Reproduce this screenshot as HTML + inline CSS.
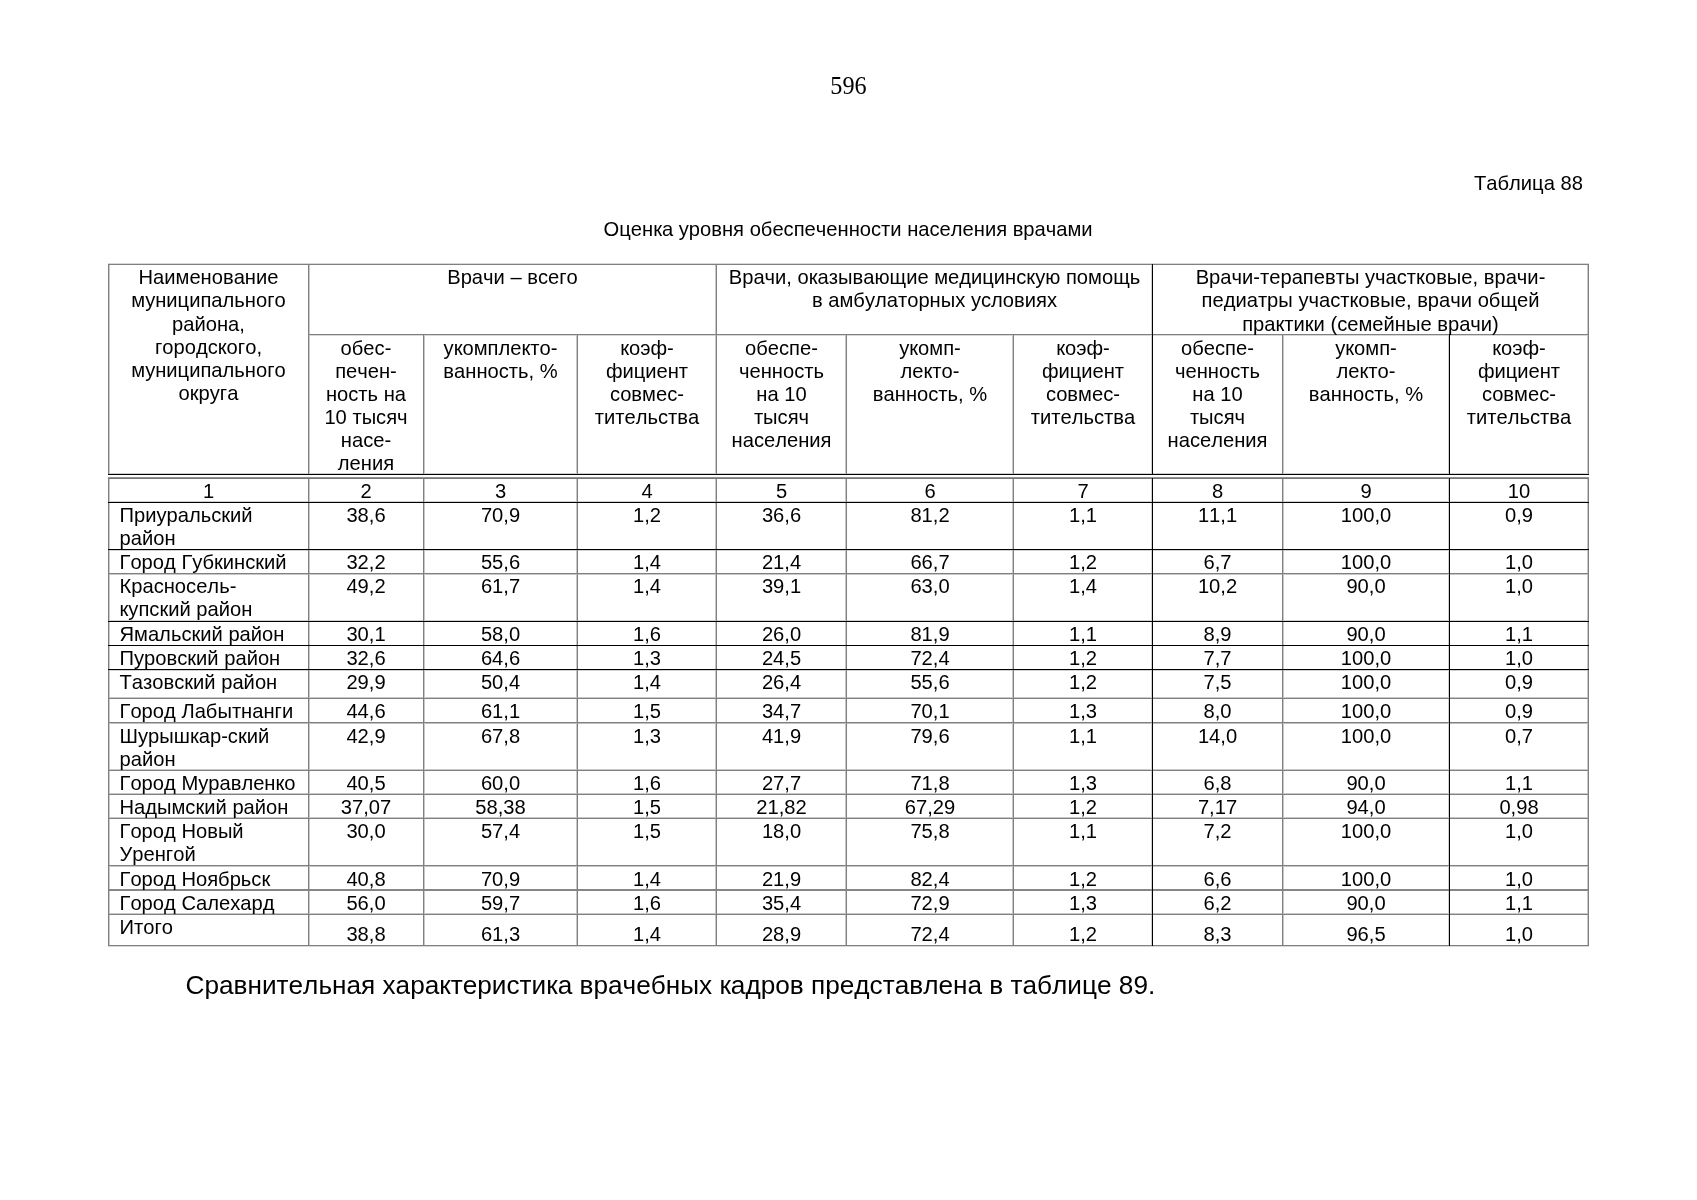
<!DOCTYPE html>
<html><head><meta charset="utf-8"><title>Таблица 88</title><style>
html,body{margin:0;padding:0;background:#fff;}
body{width:1697px;height:1200px;position:relative;overflow:hidden;font-family:"Liberation Sans",sans-serif;font-size:20.16px;color:#000;font-kerning:none;font-feature-settings:"kern" 0;}
.l{position:absolute;}
#pg{position:absolute;left:0;top:0;width:1697px;height:1200px;will-change:transform;}
.t{position:absolute;white-space:nowrap;line-height:23.1px;}
.c{text-align:center;}
</style></head><body><div id="pg">
<div class="l" style="left:108px;top:263px;width:1481px;height:1px;background:#d8d8d8"></div>
<div class="l" style="left:308px;top:335px;width:1281px;height:1px;background:#d8d8d8"></div>
<div class="l" style="left:108px;top:473px;width:1481px;height:1px;background:#d0d0d0"></div>
<div class="l" style="left:108px;top:501px;width:1481px;height:1px;background:#d0d0d0"></div>
<div class="l" style="left:108px;top:550px;width:1481px;height:1px;background:#d0d0d0"></div>
<div class="l" style="left:108px;top:574px;width:1481px;height:1px;background:#c8c8c8"></div>
<div class="l" style="left:108px;top:620px;width:1481px;height:1px;background:#d0d0d0"></div>
<div class="l" style="left:108px;top:670px;width:1481px;height:1px;background:#d0d0d0"></div>
<div class="l" style="left:108px;top:697px;width:1481px;height:1px;background:#c8c8c8"></div>
<div class="l" style="left:108px;top:723px;width:1481px;height:1px;background:#c0c0c0"></div>
<div class="l" style="left:108px;top:769px;width:1481px;height:1px;background:#c8c8c8"></div>
<div class="l" style="left:108px;top:793px;width:1481px;height:1px;background:#c8c8c8"></div>
<div class="l" style="left:108px;top:817px;width:1481px;height:1px;background:#c8c8c8"></div>
<div class="l" style="left:108px;top:866px;width:1481px;height:1px;background:#c8c8c8"></div>
<div class="l" style="left:108px;top:913px;width:1481px;height:1px;background:#c8c8c8"></div>
<div class="l" style="left:108px;top:946px;width:1481px;height:1px;background:#d8d8d8"></div>
<div class="l" style="left:109px;top:264px;width:1px;height:211px;background:#c8c8c8"></div>
<div class="l" style="left:109px;top:478px;width:1px;height:468px;background:#c8c8c8"></div>
<div class="l" style="left:309px;top:264px;width:1px;height:211px;background:#c8c8c8"></div>
<div class="l" style="left:309px;top:478px;width:1px;height:468px;background:#c8c8c8"></div>
<div class="l" style="left:424px;top:334px;width:1px;height:141px;background:#c8c8c8"></div>
<div class="l" style="left:424px;top:478px;width:1px;height:468px;background:#c8c8c8"></div>
<div class="l" style="left:576px;top:334px;width:1px;height:141px;background:#c8c8c8"></div>
<div class="l" style="left:576px;top:478px;width:1px;height:468px;background:#c8c8c8"></div>
<div class="l" style="left:715px;top:264px;width:1px;height:211px;background:#c8c8c8"></div>
<div class="l" style="left:715px;top:478px;width:1px;height:468px;background:#c8c8c8"></div>
<div class="l" style="left:845px;top:334px;width:1px;height:141px;background:#c8c8c8"></div>
<div class="l" style="left:845px;top:478px;width:1px;height:468px;background:#c8c8c8"></div>
<div class="l" style="left:1012px;top:334px;width:1px;height:141px;background:#c8c8c8"></div>
<div class="l" style="left:1012px;top:478px;width:1px;height:468px;background:#c8c8c8"></div>
<div class="l" style="left:1151px;top:264px;width:1px;height:211px;background:#d0d0d0"></div>
<div class="l" style="left:1151px;top:478px;width:1px;height:468px;background:#d0d0d0"></div>
<div class="l" style="left:1283px;top:334px;width:1px;height:141px;background:#c8c8c8"></div>
<div class="l" style="left:1283px;top:478px;width:1px;height:468px;background:#c8c8c8"></div>
<div class="l" style="left:1448px;top:334px;width:1px;height:141px;background:#d0d0d0"></div>
<div class="l" style="left:1448px;top:478px;width:1px;height:468px;background:#d0d0d0"></div>
<div class="l" style="left:1587px;top:264px;width:1px;height:211px;background:#c8c8c8"></div>
<div class="l" style="left:1587px;top:478px;width:1px;height:468px;background:#c8c8c8"></div>
<div class="l" style="left:108px;top:477px;width:1481px;height:1px;background:#939393"></div>
<div class="l" style="left:108px;top:264px;width:1481px;height:1px;background:#808080"></div>
<div class="l" style="left:308px;top:334px;width:1281px;height:1px;background:#808080"></div>
<div class="l" style="left:108px;top:478px;width:1481px;height:1px;background:#787878"></div>
<div class="l" style="left:108px;top:573px;width:1481px;height:1px;background:#808080"></div>
<div class="l" style="left:108px;top:698px;width:1481px;height:1px;background:#808080"></div>
<div class="l" style="left:108px;top:722px;width:1481px;height:1px;background:#808080"></div>
<div class="l" style="left:108px;top:770px;width:1481px;height:1px;background:#808080"></div>
<div class="l" style="left:108px;top:794px;width:1481px;height:1px;background:#808080"></div>
<div class="l" style="left:108px;top:818px;width:1481px;height:1px;background:#808080"></div>
<div class="l" style="left:108px;top:865px;width:1481px;height:1px;background:#808080"></div>
<div class="l" style="left:108px;top:889px;width:1481px;height:1px;background:#868686"></div>
<div class="l" style="left:108px;top:890px;width:1481px;height:1px;background:#868686"></div>
<div class="l" style="left:108px;top:914px;width:1481px;height:1px;background:#808080"></div>
<div class="l" style="left:108px;top:945px;width:1481px;height:1px;background:#808080"></div>
<div class="l" style="left:108px;top:264px;width:1px;height:211px;background:#808080"></div>
<div class="l" style="left:108px;top:478px;width:1px;height:468px;background:#808080"></div>
<div class="l" style="left:308px;top:264px;width:1px;height:211px;background:#808080"></div>
<div class="l" style="left:308px;top:478px;width:1px;height:468px;background:#808080"></div>
<div class="l" style="left:423px;top:334px;width:1px;height:141px;background:#808080"></div>
<div class="l" style="left:423px;top:478px;width:1px;height:468px;background:#808080"></div>
<div class="l" style="left:577px;top:334px;width:1px;height:141px;background:#808080"></div>
<div class="l" style="left:577px;top:478px;width:1px;height:468px;background:#808080"></div>
<div class="l" style="left:716px;top:264px;width:1px;height:211px;background:#808080"></div>
<div class="l" style="left:716px;top:478px;width:1px;height:468px;background:#808080"></div>
<div class="l" style="left:846px;top:334px;width:1px;height:141px;background:#808080"></div>
<div class="l" style="left:846px;top:478px;width:1px;height:468px;background:#808080"></div>
<div class="l" style="left:1013px;top:334px;width:1px;height:141px;background:#808080"></div>
<div class="l" style="left:1013px;top:478px;width:1px;height:468px;background:#808080"></div>
<div class="l" style="left:1282px;top:334px;width:1px;height:141px;background:#808080"></div>
<div class="l" style="left:1282px;top:478px;width:1px;height:468px;background:#808080"></div>
<div class="l" style="left:1588px;top:264px;width:1px;height:211px;background:#808080"></div>
<div class="l" style="left:1588px;top:478px;width:1px;height:468px;background:#808080"></div>
<div class="l" style="left:108px;top:474px;width:1481px;height:1px;background:#000"></div>
<div class="l" style="left:108px;top:502px;width:1481px;height:1px;background:#000"></div>
<div class="l" style="left:108px;top:549px;width:1481px;height:1px;background:#000"></div>
<div class="l" style="left:108px;top:621px;width:1481px;height:1px;background:#000"></div>
<div class="l" style="left:108px;top:645px;width:1481px;height:1px;background:#000"></div>
<div class="l" style="left:108px;top:669px;width:1481px;height:1px;background:#000"></div>
<div class="l" style="left:1152px;top:264px;width:1px;height:211px;background:#000"></div>
<div class="l" style="left:1152px;top:478px;width:1px;height:468px;background:#000"></div>
<div class="l" style="left:1449px;top:334px;width:1px;height:141px;background:#000"></div>
<div class="l" style="left:1449px;top:478px;width:1px;height:468px;background:#000"></div>
<div class="t c" style="left:108.00px;top:266.36px;width:201px;">Наименование<br>муниципального<br>района,<br>городского,<br>муниципального<br>округа</div>
<div class="t c" style="left:308.00px;top:266.36px;width:409px;">Врачи – всего</div>
<div class="t c" style="left:716.00px;top:266.36px;width:437px;">Врачи, оказывающие медицинскую помощь<br>в амбулаторных условиях</div>
<div class="t c" style="left:1152.00px;top:266.36px;width:437px;">Врачи-терапевты участковые, врачи-<br>педиатры участковые, врачи общей<br>практики (семейные врачи)</div>
<div class="t c" style="left:308.00px;top:336.86px;width:116px;">обес-<br>печен-<br>ность на<br>10 тысяч<br>насе-<br>ления</div>
<div class="t c" style="left:423.00px;top:336.86px;width:155px;">укомплекто-<br>ванность, %</div>
<div class="t c" style="left:577.00px;top:336.86px;width:140px;">коэф-<br>фициент<br>совмес-<br>тительства</div>
<div class="t c" style="left:716.00px;top:336.86px;width:131px;">обеспе-<br>ченность<br>на 10<br>тысяч<br>населения</div>
<div class="t c" style="left:846.00px;top:336.86px;width:168px;">укомп-<br>лекто-<br>ванность, %</div>
<div class="t c" style="left:1013.00px;top:336.86px;width:140px;">коэф-<br>фициент<br>совмес-<br>тительства</div>
<div class="t c" style="left:1152.00px;top:336.86px;width:131px;">обеспе-<br>ченность<br>на 10<br>тысяч<br>населения</div>
<div class="t c" style="left:1282.00px;top:336.86px;width:168px;">укомп-<br>лекто-<br>ванность, %</div>
<div class="t c" style="left:1449.00px;top:336.86px;width:140px;">коэф-<br>фициент<br>совмес-<br>тительства</div>
<div class="t c" style="left:108.00px;top:480.16px;width:201px;">1</div>
<div class="t c" style="left:308.00px;top:480.16px;width:116px;">2</div>
<div class="t c" style="left:423.00px;top:480.16px;width:155px;">3</div>
<div class="t c" style="left:577.00px;top:480.16px;width:140px;">4</div>
<div class="t c" style="left:716.00px;top:480.16px;width:131px;">5</div>
<div class="t c" style="left:846.00px;top:480.16px;width:168px;">6</div>
<div class="t c" style="left:1013.00px;top:480.16px;width:140px;">7</div>
<div class="t c" style="left:1152.00px;top:480.16px;width:131px;">8</div>
<div class="t c" style="left:1282.00px;top:480.16px;width:168px;">9</div>
<div class="t c" style="left:1449.00px;top:480.16px;width:140px;">10</div>
<div class="t" style="left:119.50px;top:504.26px;">Приуральский<br>район</div>
<div class="t c" style="left:308.00px;top:504.26px;width:116px;">38,6</div>
<div class="t c" style="left:423.00px;top:504.26px;width:155px;">70,9</div>
<div class="t c" style="left:577.00px;top:504.26px;width:140px;">1,2</div>
<div class="t c" style="left:716.00px;top:504.26px;width:131px;">36,6</div>
<div class="t c" style="left:846.00px;top:504.26px;width:168px;">81,2</div>
<div class="t c" style="left:1013.00px;top:504.26px;width:140px;">1,1</div>
<div class="t c" style="left:1152.00px;top:504.26px;width:131px;">11,1</div>
<div class="t c" style="left:1282.00px;top:504.26px;width:168px;">100,0</div>
<div class="t c" style="left:1449.00px;top:504.26px;width:140px;">0,9</div>
<div class="t" style="left:119.50px;top:551.26px;">Город Губкинский</div>
<div class="t c" style="left:308.00px;top:551.26px;width:116px;">32,2</div>
<div class="t c" style="left:423.00px;top:551.26px;width:155px;">55,6</div>
<div class="t c" style="left:577.00px;top:551.26px;width:140px;">1,4</div>
<div class="t c" style="left:716.00px;top:551.26px;width:131px;">21,4</div>
<div class="t c" style="left:846.00px;top:551.26px;width:168px;">66,7</div>
<div class="t c" style="left:1013.00px;top:551.26px;width:140px;">1,2</div>
<div class="t c" style="left:1152.00px;top:551.26px;width:131px;">6,7</div>
<div class="t c" style="left:1282.00px;top:551.26px;width:168px;">100,0</div>
<div class="t c" style="left:1449.00px;top:551.26px;width:140px;">1,0</div>
<div class="t" style="left:119.50px;top:575.26px;">Красносель-<br>купский район</div>
<div class="t c" style="left:308.00px;top:575.26px;width:116px;">49,2</div>
<div class="t c" style="left:423.00px;top:575.26px;width:155px;">61,7</div>
<div class="t c" style="left:577.00px;top:575.26px;width:140px;">1,4</div>
<div class="t c" style="left:716.00px;top:575.26px;width:131px;">39,1</div>
<div class="t c" style="left:846.00px;top:575.26px;width:168px;">63,0</div>
<div class="t c" style="left:1013.00px;top:575.26px;width:140px;">1,4</div>
<div class="t c" style="left:1152.00px;top:575.26px;width:131px;">10,2</div>
<div class="t c" style="left:1282.00px;top:575.26px;width:168px;">90,0</div>
<div class="t c" style="left:1449.00px;top:575.26px;width:140px;">1,0</div>
<div class="t" style="left:119.50px;top:623.26px;">Ямальский район</div>
<div class="t c" style="left:308.00px;top:623.26px;width:116px;">30,1</div>
<div class="t c" style="left:423.00px;top:623.26px;width:155px;">58,0</div>
<div class="t c" style="left:577.00px;top:623.26px;width:140px;">1,6</div>
<div class="t c" style="left:716.00px;top:623.26px;width:131px;">26,0</div>
<div class="t c" style="left:846.00px;top:623.26px;width:168px;">81,9</div>
<div class="t c" style="left:1013.00px;top:623.26px;width:140px;">1,1</div>
<div class="t c" style="left:1152.00px;top:623.26px;width:131px;">8,9</div>
<div class="t c" style="left:1282.00px;top:623.26px;width:168px;">90,0</div>
<div class="t c" style="left:1449.00px;top:623.26px;width:140px;">1,1</div>
<div class="t" style="left:119.50px;top:647.26px;">Пуровский район</div>
<div class="t c" style="left:308.00px;top:647.26px;width:116px;">32,6</div>
<div class="t c" style="left:423.00px;top:647.26px;width:155px;">64,6</div>
<div class="t c" style="left:577.00px;top:647.26px;width:140px;">1,3</div>
<div class="t c" style="left:716.00px;top:647.26px;width:131px;">24,5</div>
<div class="t c" style="left:846.00px;top:647.26px;width:168px;">72,4</div>
<div class="t c" style="left:1013.00px;top:647.26px;width:140px;">1,2</div>
<div class="t c" style="left:1152.00px;top:647.26px;width:131px;">7,7</div>
<div class="t c" style="left:1282.00px;top:647.26px;width:168px;">100,0</div>
<div class="t c" style="left:1449.00px;top:647.26px;width:140px;">1,0</div>
<div class="t" style="left:119.50px;top:671.26px;">Тазовский район</div>
<div class="t c" style="left:308.00px;top:671.26px;width:116px;">29,9</div>
<div class="t c" style="left:423.00px;top:671.26px;width:155px;">50,4</div>
<div class="t c" style="left:577.00px;top:671.26px;width:140px;">1,4</div>
<div class="t c" style="left:716.00px;top:671.26px;width:131px;">26,4</div>
<div class="t c" style="left:846.00px;top:671.26px;width:168px;">55,6</div>
<div class="t c" style="left:1013.00px;top:671.26px;width:140px;">1,2</div>
<div class="t c" style="left:1152.00px;top:671.26px;width:131px;">7,5</div>
<div class="t c" style="left:1282.00px;top:671.26px;width:168px;">100,0</div>
<div class="t c" style="left:1449.00px;top:671.26px;width:140px;">0,9</div>
<div class="t" style="left:119.50px;top:700.26px;">Город Лабытнанги</div>
<div class="t c" style="left:308.00px;top:700.26px;width:116px;">44,6</div>
<div class="t c" style="left:423.00px;top:700.26px;width:155px;">61,1</div>
<div class="t c" style="left:577.00px;top:700.26px;width:140px;">1,5</div>
<div class="t c" style="left:716.00px;top:700.26px;width:131px;">34,7</div>
<div class="t c" style="left:846.00px;top:700.26px;width:168px;">70,1</div>
<div class="t c" style="left:1013.00px;top:700.26px;width:140px;">1,3</div>
<div class="t c" style="left:1152.00px;top:700.26px;width:131px;">8,0</div>
<div class="t c" style="left:1282.00px;top:700.26px;width:168px;">100,0</div>
<div class="t c" style="left:1449.00px;top:700.26px;width:140px;">0,9</div>
<div class="t" style="left:119.50px;top:725.26px;">Шурышкар-ский<br>район</div>
<div class="t c" style="left:308.00px;top:725.26px;width:116px;">42,9</div>
<div class="t c" style="left:423.00px;top:725.26px;width:155px;">67,8</div>
<div class="t c" style="left:577.00px;top:725.26px;width:140px;">1,3</div>
<div class="t c" style="left:716.00px;top:725.26px;width:131px;">41,9</div>
<div class="t c" style="left:846.00px;top:725.26px;width:168px;">79,6</div>
<div class="t c" style="left:1013.00px;top:725.26px;width:140px;">1,1</div>
<div class="t c" style="left:1152.00px;top:725.26px;width:131px;">14,0</div>
<div class="t c" style="left:1282.00px;top:725.26px;width:168px;">100,0</div>
<div class="t c" style="left:1449.00px;top:725.26px;width:140px;">0,7</div>
<div class="t" style="left:119.50px;top:772.26px;">Город Муравленко</div>
<div class="t c" style="left:308.00px;top:772.26px;width:116px;">40,5</div>
<div class="t c" style="left:423.00px;top:772.26px;width:155px;">60,0</div>
<div class="t c" style="left:577.00px;top:772.26px;width:140px;">1,6</div>
<div class="t c" style="left:716.00px;top:772.26px;width:131px;">27,7</div>
<div class="t c" style="left:846.00px;top:772.26px;width:168px;">71,8</div>
<div class="t c" style="left:1013.00px;top:772.26px;width:140px;">1,3</div>
<div class="t c" style="left:1152.00px;top:772.26px;width:131px;">6,8</div>
<div class="t c" style="left:1282.00px;top:772.26px;width:168px;">90,0</div>
<div class="t c" style="left:1449.00px;top:772.26px;width:140px;">1,1</div>
<div class="t" style="left:119.50px;top:796.26px;">Надымский район</div>
<div class="t c" style="left:308.00px;top:796.26px;width:116px;">37,07</div>
<div class="t c" style="left:423.00px;top:796.26px;width:155px;">58,38</div>
<div class="t c" style="left:577.00px;top:796.26px;width:140px;">1,5</div>
<div class="t c" style="left:716.00px;top:796.26px;width:131px;">21,82</div>
<div class="t c" style="left:846.00px;top:796.26px;width:168px;">67,29</div>
<div class="t c" style="left:1013.00px;top:796.26px;width:140px;">1,2</div>
<div class="t c" style="left:1152.00px;top:796.26px;width:131px;">7,17</div>
<div class="t c" style="left:1282.00px;top:796.26px;width:168px;">94,0</div>
<div class="t c" style="left:1449.00px;top:796.26px;width:140px;">0,98</div>
<div class="t" style="left:119.50px;top:820.26px;">Город Новый<br>Уренгой</div>
<div class="t c" style="left:308.00px;top:820.26px;width:116px;">30,0</div>
<div class="t c" style="left:423.00px;top:820.26px;width:155px;">57,4</div>
<div class="t c" style="left:577.00px;top:820.26px;width:140px;">1,5</div>
<div class="t c" style="left:716.00px;top:820.26px;width:131px;">18,0</div>
<div class="t c" style="left:846.00px;top:820.26px;width:168px;">75,8</div>
<div class="t c" style="left:1013.00px;top:820.26px;width:140px;">1,1</div>
<div class="t c" style="left:1152.00px;top:820.26px;width:131px;">7,2</div>
<div class="t c" style="left:1282.00px;top:820.26px;width:168px;">100,0</div>
<div class="t c" style="left:1449.00px;top:820.26px;width:140px;">1,0</div>
<div class="t" style="left:119.50px;top:868.26px;">Город Ноябрьск</div>
<div class="t c" style="left:308.00px;top:868.26px;width:116px;">40,8</div>
<div class="t c" style="left:423.00px;top:868.26px;width:155px;">70,9</div>
<div class="t c" style="left:577.00px;top:868.26px;width:140px;">1,4</div>
<div class="t c" style="left:716.00px;top:868.26px;width:131px;">21,9</div>
<div class="t c" style="left:846.00px;top:868.26px;width:168px;">82,4</div>
<div class="t c" style="left:1013.00px;top:868.26px;width:140px;">1,2</div>
<div class="t c" style="left:1152.00px;top:868.26px;width:131px;">6,6</div>
<div class="t c" style="left:1282.00px;top:868.26px;width:168px;">100,0</div>
<div class="t c" style="left:1449.00px;top:868.26px;width:140px;">1,0</div>
<div class="t" style="left:119.50px;top:892.26px;">Город Салехард</div>
<div class="t c" style="left:308.00px;top:892.26px;width:116px;">56,0</div>
<div class="t c" style="left:423.00px;top:892.26px;width:155px;">59,7</div>
<div class="t c" style="left:577.00px;top:892.26px;width:140px;">1,6</div>
<div class="t c" style="left:716.00px;top:892.26px;width:131px;">35,4</div>
<div class="t c" style="left:846.00px;top:892.26px;width:168px;">72,9</div>
<div class="t c" style="left:1013.00px;top:892.26px;width:140px;">1,3</div>
<div class="t c" style="left:1152.00px;top:892.26px;width:131px;">6,2</div>
<div class="t c" style="left:1282.00px;top:892.26px;width:168px;">90,0</div>
<div class="t c" style="left:1449.00px;top:892.26px;width:140px;">1,1</div>
<div class="t" style="left:119.50px;top:916.26px;">Итого</div>
<div class="t c" style="left:308.00px;top:923.26px;width:116px;">38,8</div>
<div class="t c" style="left:423.00px;top:923.26px;width:155px;">61,3</div>
<div class="t c" style="left:577.00px;top:923.26px;width:140px;">1,4</div>
<div class="t c" style="left:716.00px;top:923.26px;width:131px;">28,9</div>
<div class="t c" style="left:846.00px;top:923.26px;width:168px;">72,4</div>
<div class="t c" style="left:1013.00px;top:923.26px;width:140px;">1,2</div>
<div class="t c" style="left:1152.00px;top:923.26px;width:131px;">8,3</div>
<div class="t c" style="left:1282.00px;top:923.26px;width:168px;">96,5</div>
<div class="t c" style="left:1449.00px;top:923.26px;width:140px;">1,0</div>
<div class="t" style="left:0;width:1697px;text-align:center;top:72px;font-family:'Liberation Serif',serif;font-size:24.19px;line-height:28px;">596</div>
<div class="t" style="left:1474px;top:172px;">Таблица 88</div>
<div class="t" style="left:603.6px;top:218.4px;">Оценка уровня обеспеченности населения врачами</div>
<div class="t" style="left:185.5px;top:970.2px;font-size:26.2px;line-height:30px;">Сравнительная характеристика врачебных кадров представлена в таблице 89.</div>
</div></body></html>
